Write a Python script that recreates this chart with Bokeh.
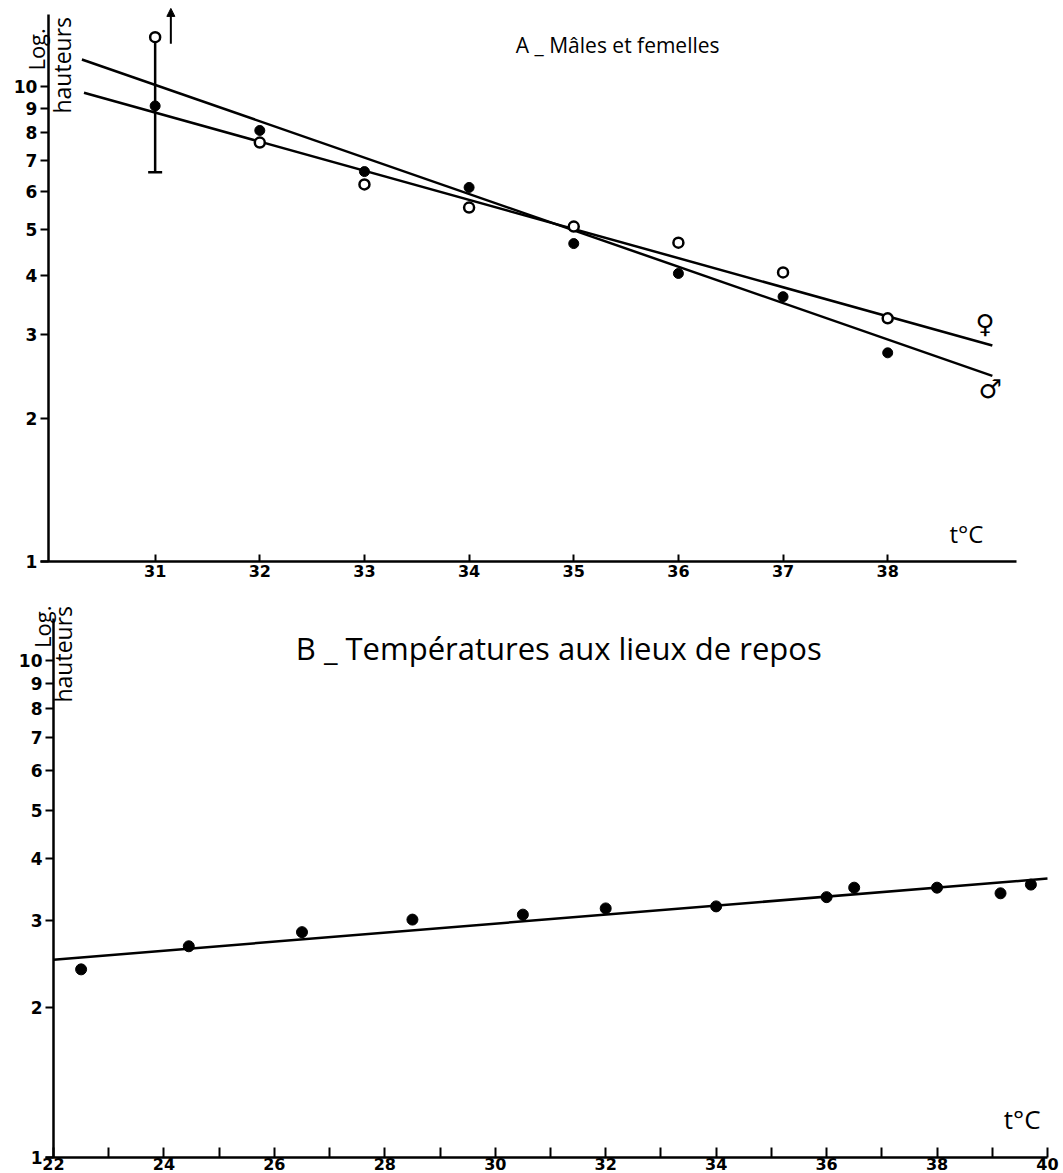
from bokeh.plotting import figure
from bokeh.layouts import column
from bokeh.models import (FixedTicker, Label, Whisker, TeeHead, ColumnDataSource,
                          Arrow, NormalHead, Range1d, PrintfTickFormatter, LogAxis,
                          LinearAxis)
from bokeh.embed import file_html
from bokeh.resources import INLINE

# ---------------- data ----------------
# Panel A : Mâles et femelles
temps_a = [31, 32, 33, 34, 35, 36, 37, 38]
males_a = [9.1, 8.08, 6.62, 6.13, 4.67, 4.04, 3.61, 2.75]      # filled circles
females_a = [12.7, 7.62, 6.22, 5.56, 5.07, 4.69, 4.06, 3.25]   # open circles
err_t = [31]
err_low = [6.6]
err_high = [12.7]
fit_f_t = [30.32, 39.0]
fit_f_h = [9.7, 2.85]
fit_m_t = [30.30, 39.0]
fit_m_h = [11.4, 2.46]

# Panel B : Températures aux lieux de repos
temps_b = [22.5, 24.45, 26.5, 28.5, 30.5, 32.0, 34.0, 36.0, 36.5, 38.0, 39.15, 39.7]
rest_b = [2.39, 2.66, 2.84, 3.01, 3.08, 3.17, 3.20, 3.34, 3.49, 3.49, 3.40, 3.54]
fit_b_t = [22, 40]
fit_b_h = [2.50, 3.64]

y_ticks = [1, 2, 3, 4, 5, 6, 7, 8, 9, 10]
x_ticks_a = [31, 32, 33, 34, 35, 36, 37, 38]
x_ticks_b = list(range(22, 41))
x_labels_b = {t: (str(t) if t % 2 == 0 else "") for t in x_ticks_b}

TICK_FONT = "DejaVu Sans"
TEXT_FONT = "Open Sans"


def style_axis(ax):
    ax.axis_line_width = 2.5
    ax.axis_line_color = "black"
    ax.major_tick_line_width = 2
    ax.major_tick_line_color = "black"
    ax.minor_tick_line_color = None
    ax.major_label_text_font = TICK_FONT
    ax.major_label_text_font_style = "bold"
    ax.major_label_text_color = "black"


def setup(p, xt, tick_in, x_origin, x_bounds, y_bounds, x_standoff):
    p.xgrid.visible = False
    p.ygrid.visible = False
    p.outline_line_color = None
    p.background_fill_color = "white"
    p.border_fill_color = "white"
    xa = LinearAxis(fixed_location=1, ticker=FixedTicker(ticks=xt), bounds=x_bounds)
    style_axis(xa)
    xa.major_tick_in = tick_in
    xa.major_tick_out = 0
    xa.major_label_standoff = x_standoff
    xa.major_label_text_font_size = "16px"
    p.add_layout(xa, "below")
    ya = LogAxis(fixed_location=x_origin, ticker=FixedTicker(ticks=y_ticks),
                 formatter=PrintfTickFormatter(format="%d"), bounds=y_bounds)
    style_axis(ya)
    ya.major_tick_in = 0
    ya.major_tick_out = 8
    ya.major_label_standoff = 3
    ya.major_label_text_font_size = "17px"
    p.add_layout(ya, "left")
    return xa


def lab(p, x, y, text, size, align="left", baseline="middle", angle=0, font=TEXT_FONT):
    p.add_layout(Label(x=x, y=y, text=text, text_font=font, text_font_size=size,
                       text_align=align, text_baseline=baseline, angle=angle,
                       angle_units="deg", text_color="black"))


# ---------------- panel A ----------------
p1 = figure(width=1063, height=598, x_range=Range1d(30 - 50 / 104.65, 30 + 1013 / 104.65),
            y_range=Range1d(0.836, 15.17), y_axis_type="log",
            x_axis_location=None, y_axis_location=None,
            output_backend="svg", toolbar_location=None, min_border=0)
setup(p1, x_ticks_a, 7, 29.98, (29.9, 39.23), (1, 14.2), 3)

p1.add_layout(Whisker(base="x", upper="upper", lower="lower",
                      source=ColumnDataSource(dict(x=err_t, upper=err_high, lower=err_low)),
                      upper_head=None,
                      lower_head=TeeHead(size=14, line_width=2.5, line_color="black"),
                      line_width=2.5, line_color="black", level="underlay"))
p1.add_layout(Arrow(end=NormalHead(size=8, fill_color="black", line_color="black"),
                    x_start=31.15, y_start=12.3, x_end=31.15, y_end=14.6,
                    line_width=2, line_color="black"))

p1.line(fit_m_t, fit_m_h, line_width=2.5, line_color="black")
p1.line(fit_f_t, fit_f_h, line_width=2.5, line_color="black")
p1.scatter(temps_a, males_a, size=10, fill_color="black", line_color="black")
p1.scatter(temps_a, females_a, size=10, fill_color="white", line_color="black", line_width=2.5)

lab(p1, 35.42, 12.2, "A _ Mâles et femelles", "21px", align="center")
lab(p1, 29.865, 10.8, "Log.", "22px", angle=90)
lab(p1, 30.114, 8.77, "hauteurs", "23px", angle=90)
lab(p1, 38.59, 1.055, "t°C", "24px", baseline="bottom")
lab(p1, 38.93, 3.17, "♀", "26px", align="center", font="DejaVu Sans")
lab(p1, 38.98, 2.31, "♂", "26px", align="center", font="DejaVu Sans")

# ---------------- panel B ----------------
p2 = figure(width=1063, height=575, x_range=Range1d(22 - 53 / 55.22, 22 + 1010 / 55.22),
            y_range=Range1d(0.928, 13.33), y_axis_type="log",
            x_axis_location=None, y_axis_location=None,
            output_backend="svg", toolbar_location=None, min_border=0)
xb = setup(p2, x_ticks_b, 10, 22, (21.85, 40), (1, 12.15), 1)
xb.major_label_overrides = x_labels_b

p2.line(fit_b_t, fit_b_h, line_width=2.5, line_color="black")
p2.scatter(temps_b, rest_b, size=11, fill_color="black", line_color="black")

lab(p2, 31.15, 10.6, "B _ Températures aux lieux de repos", "31px", align="center")
lab(p2, 21.8, 10.6, "Log.", "22px", angle=90)
lab(p2, 22.18, 8.23, "hauteurs", "23px", angle=90)
lab(p2, 39.21, 1.10, "t°C", "26px", baseline="bottom")

layout = column(p1, p2, spacing=0)
open("out.html", "w").write(file_html(layout, INLINE))
